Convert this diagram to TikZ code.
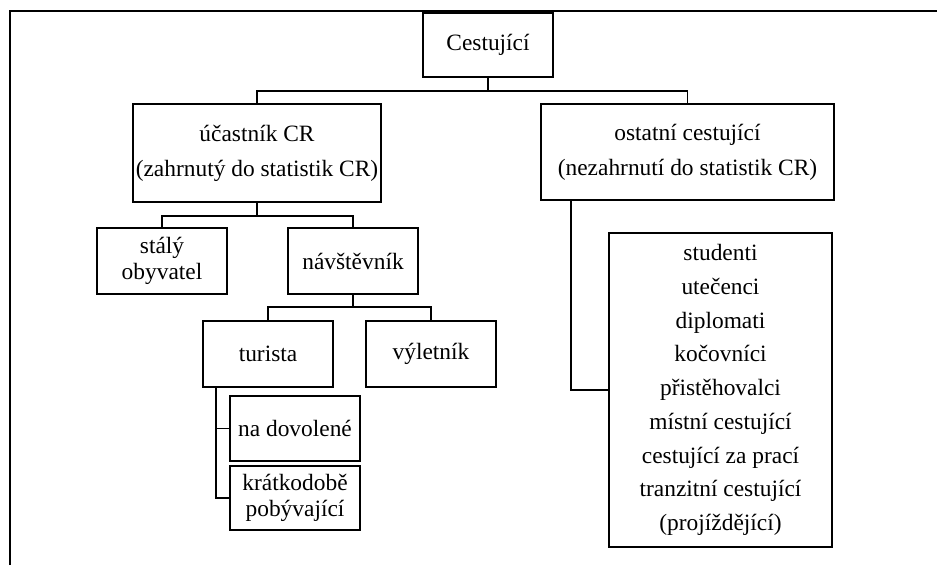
\documentclass[tikz,border=0pt]{standalone}
\usepackage{fontspec}
\setmainfont{Liberation Serif}
\tikzset{
    box/.style={draw, line width=1.6pt, align=center, inner sep=0pt,
        font=\fontsize{23.4}{35}\selectfont},
    tightbox/.style={box, font=\fontsize{23.4}{25.5}\selectfont},
    link/.style={line width=1.3pt}
}
\begin{document}
\begin{tikzpicture}[x=1pt, y=-1pt]
    \useasboundingbox (0,0) rectangle (937,565);
    \draw[line width=1.4pt] (10,565) -- (10,11) -- (937,11);

    \node[box, minimum width=130pt, minimum height=64pt] (root) at (488,45) {Cestující};

    \node[box, minimum width=248pt, minimum height=98pt] (ucast) at (257,153)
        {účastník CR\\(zahrnutý do statistik CR)};
    \node[box, minimum width=293pt, minimum height=96pt] (ostatni) at (687.5,152)
        {ostatní cestující\\(nezahrnutí do statistik CR)};

    \node[tightbox, minimum width=130pt, minimum height=66pt] (staly) at (162,261) {stálý\\obyvatel};
    \node[box, minimum width=130pt, minimum height=66pt] (navst) at (353,261) {návštěvník};

    \node[box, minimum width=130pt, minimum height=66pt] (turista) at (268,354) {turista};
    \node[box, minimum width=130pt, minimum height=66pt] (vylet) at (431,354) {výletník};

    \node[box, minimum width=130pt, minimum height=65pt] (dovol) at (295,428.5) {na dovolené};
    \node[tightbox, minimum width=130pt, minimum height=64pt] (kratko) at (295,498)
        {krátkodobě\\pobývající};

    \node[box, minimum width=223pt, minimum height=314pt, font=\fontsize{23.4}{33.7}\selectfont]
        (list) at (720.5,390)
        {studenti\\utečenci\\diplomati\\kočovníci\\přistěhovalci\\místní cestující\\cestující za prací\\tranzitní cestující\\(projíždějící)};

    % junctions
    \coordinate (j1) at (488,91);
    \coordinate (j2) at (257,216);
    \coordinate (j3) at (353,307);
    \coordinate (t0) at (216,387);
    \coordinate (o0) at (571,200);

    \draw[link] (root.south) -- (j1);
    \draw[link] (ucast.north) |- (j1) -| (ostatni.north);

    \draw[link] (ucast.south) -- (j2);
    \draw[link] (staly.north) |- (j2) -| (navst.north);

    \draw[link] (navst.south) -- (j3);
    \draw[link] (turista.north) |- (j3) -| (vylet.north);

    \draw[link] (t0) |- (dovol.west);
    \draw[link] (t0) |- (kratko.west);

    \draw[link] (o0) |- (list.west);
\end{tikzpicture}
\end{document}
